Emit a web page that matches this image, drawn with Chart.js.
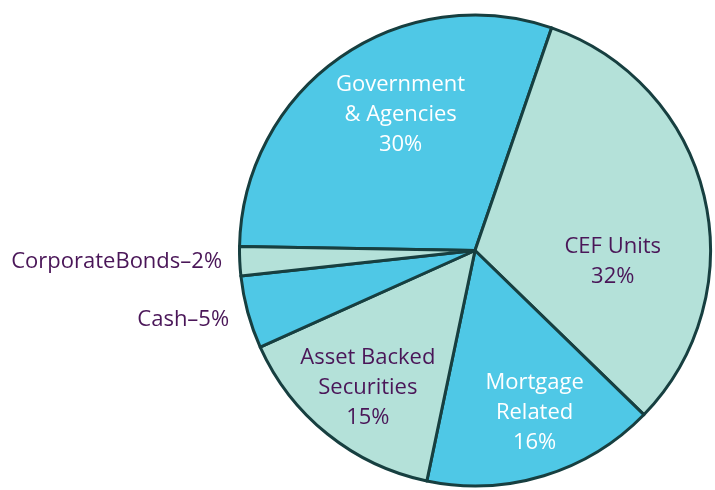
<!DOCTYPE html>
<html>
<head>
<meta charset="utf-8">
<script src="https://cdn.jsdelivr.net/npm/chart.js@4.4.0/dist/chart.umd.min.js"></script>
<style>
html,body{margin:0;padding:0;background:#fff;}
#wrap{width:715px;height:490px;position:relative;}
</style>
</head>
<body>
<div id="wrap"><canvas id="c" width="715" height="490"></canvas></div>
<script>
const categories = ["Government & Agencies", "CEF Units", "Mortgage Related", "Asset Backed Securities", "Cash", "CorporateBonds"];
const values = [30, 32, 16, 15, 5, 2];
const labelLines = [
  ["Government", "& Agencies", "30%"],
  ["CEF Units", "32%"],
  ["Mortgage", "Related", "16%"],
  ["Asset Backed", "Securities", "15%"],
  ["Cash\u20135%"],
  ["CorporateBonds\u20132%"]
];
const sliceColors = ["#4fc8e6", "#b4e1d9", "#4fc8e6", "#b4e1d9", "#4fc8e6", "#b4e1d9"];
const textColors = ["#ffffff", "#4a1658", "#ffffff", "#4a1658", "#4a1658", "#4a1658"];

// label anchors, as fractions of the radius from the pie centre
const labelAnchors = [
  {dx: -0.316, dy: -0.575, align: "center"},
  {dx: 0.585, dy: 0.048, align: "center"},
  {dx: 0.253, dy: 0.690, align: "center"},
  {dx: -0.455, dy: 0.581, align: "center"},
  {dx: -1.044, dy: 0.293, align: "right"},
  {dx: -1.074, dy: 0.048, align: "right"}
];

const labelPlugin = {
  id: "sliceLabels",
  afterDatasetsDraw(chart) {
    const ctx = chart.ctx;
    const meta = chart.getDatasetMeta(0);
    const arc0 = meta.data[0];
    const cx = arc0.x, cy = arc0.y, r = arc0.outerRadius;
    ctx.save();
    ctx.font = '22px "Open Sans", Lato, sans-serif';
    ctx.textBaseline = "middle";
    const lh = 30;
    labelLines.forEach((lines, i) => {
      const a = labelAnchors[i];
      const x = cx + a.dx * r;
      const y = cy + a.dy * r;
      ctx.fillStyle = textColors[i];
      ctx.textAlign = a.align;
      const top = y - (lines.length - 1) * lh / 2;
      lines.forEach((t, j) => ctx.fillText(t, x, top + j * lh));
    });
    ctx.restore();
  }
};

new Chart(document.getElementById("c"), {
  type: "pie",
  data: {
    labels: categories,
    datasets: [{
      data: values,
      backgroundColor: sliceColors,
      borderColor: "#173f40",
      borderWidth: 3,
      borderJoinStyle: "round",
      hoverOffset: 0
    }]
  },
  options: {
    responsive: false,
    animation: false,
    rotation: -89,
    layout: {padding: {left: 238, right: 3, top: 13, bottom: 2}},
    plugins: {
      legend: {display: false},
      tooltip: {enabled: false}
    }
  },
  plugins: [labelPlugin]
});
</script>
</body>
</html>
